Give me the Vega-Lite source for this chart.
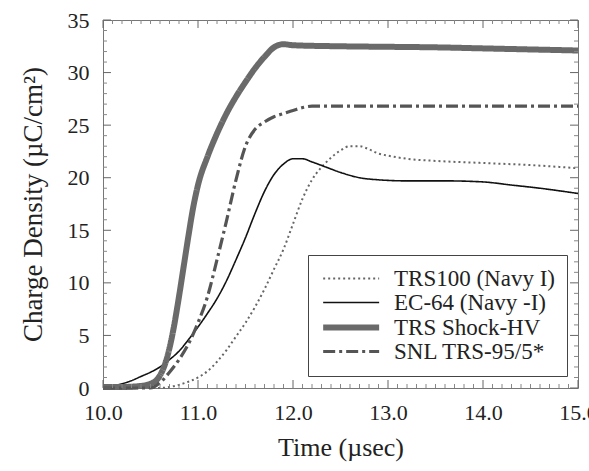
{
  "$schema": "https://vega.github.io/schema/vega-lite/v6.json",
  "width": 475,
  "height": 368,
  "autosize": {"type": "none"},
  "padding": {"left": 103, "top": 20, "right": 11, "bottom": 83},
  "background": "white",
  "config": {
    "view": {"stroke": "#777", "strokeWidth": 1},
    "font": "Liberation Serif",
    "legend": {
      "orient": "none",
      "legendX": 205,
      "legendY": 235,
      "symbolType": "M-1,0H5",
      "symbolSize": 348,
      "labelFont": "Liberation Serif",
      "labelFontSize": 23,
      "labelColor": "#222",
      "labelOffset": 49,
      "labelLimit": 300,
      "strokeColor": "#444",
      "fillColor": "white",
      "padding": 12,
      "rowPadding": 0
    }
  },
  "datasets": {
    "xmaj": [{"p": 10}, {"p": 11}, {"p": 12}, {"p": 13}, {"p": 14}, {"p": 15}],
    "xmin": [
      {"p": 10.1}, {"p": 10.2}, {"p": 10.3}, {"p": 10.4}, {"p": 10.5}, {"p": 10.6}, {"p": 10.7}, {"p": 10.8}, {"p": 10.9},
      {"p": 11.1}, {"p": 11.2}, {"p": 11.3}, {"p": 11.4}, {"p": 11.5}, {"p": 11.6}, {"p": 11.7}, {"p": 11.8}, {"p": 11.9},
      {"p": 12.1}, {"p": 12.2}, {"p": 12.3}, {"p": 12.4}, {"p": 12.5}, {"p": 12.6}, {"p": 12.7}, {"p": 12.8}, {"p": 12.9},
      {"p": 13.1}, {"p": 13.2}, {"p": 13.3}, {"p": 13.4}, {"p": 13.5}, {"p": 13.6}, {"p": 13.7}, {"p": 13.8}, {"p": 13.9},
      {"p": 14.1}, {"p": 14.2}, {"p": 14.3}, {"p": 14.4}, {"p": 14.5}, {"p": 14.6}, {"p": 14.7}, {"p": 14.8}, {"p": 14.9}
    ],
    "ymaj": [{"p": 0}, {"p": 5}, {"p": 10}, {"p": 15}, {"p": 20}, {"p": 25}, {"p": 30}, {"p": 35}],
    "ymin": [
      {"p": 1}, {"p": 2}, {"p": 3}, {"p": 4}, {"p": 6}, {"p": 7}, {"p": 8}, {"p": 9},
      {"p": 11}, {"p": 12}, {"p": 13}, {"p": 14}, {"p": 16}, {"p": 17}, {"p": 18}, {"p": 19},
      {"p": 21}, {"p": 22}, {"p": 23}, {"p": 24}, {"p": 26}, {"p": 27}, {"p": 28}, {"p": 29},
      {"p": 31}, {"p": 32}, {"p": 33}, {"p": 34}
    ],
    "curves": [
      {"t": 10.0, "v": 0.0, "s": "TRS100 (Navy I)"},
      {"t": 10.6, "v": 0.0, "s": "TRS100 (Navy I)"},
      {"t": 10.7, "v": 0.1, "s": "TRS100 (Navy I)"},
      {"t": 10.8, "v": 0.3, "s": "TRS100 (Navy I)"},
      {"t": 10.9, "v": 0.6, "s": "TRS100 (Navy I)"},
      {"t": 11.0, "v": 1.0, "s": "TRS100 (Navy I)"},
      {"t": 11.1, "v": 1.6, "s": "TRS100 (Navy I)"},
      {"t": 11.2, "v": 2.5, "s": "TRS100 (Navy I)"},
      {"t": 11.3, "v": 3.6, "s": "TRS100 (Navy I)"},
      {"t": 11.4, "v": 4.9, "s": "TRS100 (Navy I)"},
      {"t": 11.5, "v": 6.2, "s": "TRS100 (Navy I)"},
      {"t": 11.6, "v": 7.7, "s": "TRS100 (Navy I)"},
      {"t": 11.7, "v": 9.4, "s": "TRS100 (Navy I)"},
      {"t": 11.8, "v": 11.3, "s": "TRS100 (Navy I)"},
      {"t": 11.9, "v": 13.2, "s": "TRS100 (Navy I)"},
      {"t": 12.0, "v": 15.6, "s": "TRS100 (Navy I)"},
      {"t": 12.1, "v": 18.0, "s": "TRS100 (Navy I)"},
      {"t": 12.2, "v": 19.8, "s": "TRS100 (Navy I)"},
      {"t": 12.3, "v": 21.0, "s": "TRS100 (Navy I)"},
      {"t": 12.4, "v": 21.9, "s": "TRS100 (Navy I)"},
      {"t": 12.5, "v": 22.6, "s": "TRS100 (Navy I)"},
      {"t": 12.6, "v": 23.0, "s": "TRS100 (Navy I)"},
      {"t": 12.7, "v": 23.0, "s": "TRS100 (Navy I)"},
      {"t": 12.8, "v": 22.7, "s": "TRS100 (Navy I)"},
      {"t": 12.9, "v": 22.3, "s": "TRS100 (Navy I)"},
      {"t": 13.0, "v": 22.1, "s": "TRS100 (Navy I)"},
      {"t": 13.2, "v": 21.8, "s": "TRS100 (Navy I)"},
      {"t": 13.5, "v": 21.6, "s": "TRS100 (Navy I)"},
      {"t": 14.0, "v": 21.4, "s": "TRS100 (Navy I)"},
      {"t": 14.5, "v": 21.2, "s": "TRS100 (Navy I)"},
      {"t": 15.0, "v": 20.9, "s": "TRS100 (Navy I)"},

      {"t": 10.0, "v": 0.1, "s": "EC-64 (Navy -I)"},
      {"t": 10.2, "v": 0.4, "s": "EC-64 (Navy -I)"},
      {"t": 10.3, "v": 0.7, "s": "EC-64 (Navy -I)"},
      {"t": 10.4, "v": 1.1, "s": "EC-64 (Navy -I)"},
      {"t": 10.5, "v": 1.5, "s": "EC-64 (Navy -I)"},
      {"t": 10.6, "v": 2.0, "s": "EC-64 (Navy -I)"},
      {"t": 10.7, "v": 2.7, "s": "EC-64 (Navy -I)"},
      {"t": 10.8, "v": 3.5, "s": "EC-64 (Navy -I)"},
      {"t": 10.9, "v": 4.6, "s": "EC-64 (Navy -I)"},
      {"t": 11.0, "v": 5.8, "s": "EC-64 (Navy -I)"},
      {"t": 11.1, "v": 7.1, "s": "EC-64 (Navy -I)"},
      {"t": 11.2, "v": 8.5, "s": "EC-64 (Navy -I)"},
      {"t": 11.3, "v": 10.2, "s": "EC-64 (Navy -I)"},
      {"t": 11.4, "v": 12.2, "s": "EC-64 (Navy -I)"},
      {"t": 11.5, "v": 14.3, "s": "EC-64 (Navy -I)"},
      {"t": 11.6, "v": 16.6, "s": "EC-64 (Navy -I)"},
      {"t": 11.7, "v": 18.7, "s": "EC-64 (Navy -I)"},
      {"t": 11.8, "v": 20.3, "s": "EC-64 (Navy -I)"},
      {"t": 11.9, "v": 21.3, "s": "EC-64 (Navy -I)"},
      {"t": 12.0, "v": 21.8, "s": "EC-64 (Navy -I)"},
      {"t": 12.1, "v": 21.8, "s": "EC-64 (Navy -I)"},
      {"t": 12.2, "v": 21.5, "s": "EC-64 (Navy -I)"},
      {"t": 12.35, "v": 21.0, "s": "EC-64 (Navy -I)"},
      {"t": 12.5, "v": 20.5, "s": "EC-64 (Navy -I)"},
      {"t": 12.7, "v": 20.0, "s": "EC-64 (Navy -I)"},
      {"t": 12.9, "v": 19.8, "s": "EC-64 (Navy -I)"},
      {"t": 13.2, "v": 19.7, "s": "EC-64 (Navy -I)"},
      {"t": 13.6, "v": 19.7, "s": "EC-64 (Navy -I)"},
      {"t": 14.0, "v": 19.6, "s": "EC-64 (Navy -I)"},
      {"t": 14.3, "v": 19.3, "s": "EC-64 (Navy -I)"},
      {"t": 14.6, "v": 19.0, "s": "EC-64 (Navy -I)"},
      {"t": 15.0, "v": 18.5, "s": "EC-64 (Navy -I)"},

      {"t": 10.0, "v": 0.1, "s": "TRS Shock-HV"},
      {"t": 10.2, "v": 0.1, "s": "TRS Shock-HV"},
      {"t": 10.4, "v": 0.2, "s": "TRS Shock-HV"},
      {"t": 10.5, "v": 0.4, "s": "TRS Shock-HV"},
      {"t": 10.6, "v": 1.2, "s": "TRS Shock-HV"},
      {"t": 10.65, "v": 2.2, "s": "TRS Shock-HV"},
      {"t": 10.7, "v": 3.8, "s": "TRS Shock-HV"},
      {"t": 10.75, "v": 6.0, "s": "TRS Shock-HV"},
      {"t": 10.8, "v": 8.7, "s": "TRS Shock-HV"},
      {"t": 10.85, "v": 11.6, "s": "TRS Shock-HV"},
      {"t": 10.9, "v": 14.5, "s": "TRS Shock-HV"},
      {"t": 10.95, "v": 17.2, "s": "TRS Shock-HV"},
      {"t": 11.0, "v": 19.3, "s": "TRS Shock-HV"},
      {"t": 11.1, "v": 22.0, "s": "TRS Shock-HV"},
      {"t": 11.2, "v": 24.2, "s": "TRS Shock-HV"},
      {"t": 11.3, "v": 26.1, "s": "TRS Shock-HV"},
      {"t": 11.4, "v": 27.7, "s": "TRS Shock-HV"},
      {"t": 11.5, "v": 29.1, "s": "TRS Shock-HV"},
      {"t": 11.6, "v": 30.4, "s": "TRS Shock-HV"},
      {"t": 11.7, "v": 31.5, "s": "TRS Shock-HV"},
      {"t": 11.8, "v": 32.4, "s": "TRS Shock-HV"},
      {"t": 11.9, "v": 32.7, "s": "TRS Shock-HV"},
      {"t": 12.0, "v": 32.6, "s": "TRS Shock-HV"},
      {"t": 12.5, "v": 32.5, "s": "TRS Shock-HV"},
      {"t": 13.0, "v": 32.45, "s": "TRS Shock-HV"},
      {"t": 13.5, "v": 32.4, "s": "TRS Shock-HV"},
      {"t": 14.0, "v": 32.3, "s": "TRS Shock-HV"},
      {"t": 14.5, "v": 32.2, "s": "TRS Shock-HV"},
      {"t": 15.0, "v": 32.1, "s": "TRS Shock-HV"},

      {"t": 10.0, "v": 0.0, "s": "SNL TRS-95/5*"},
      {"t": 10.5, "v": 0.0, "s": "SNL TRS-95/5*"},
      {"t": 10.6, "v": 0.5, "s": "SNL TRS-95/5*"},
      {"t": 10.7, "v": 1.5, "s": "SNL TRS-95/5*"},
      {"t": 10.8, "v": 2.7, "s": "SNL TRS-95/5*"},
      {"t": 10.9, "v": 4.2, "s": "SNL TRS-95/5*"},
      {"t": 11.0, "v": 6.2, "s": "SNL TRS-95/5*"},
      {"t": 11.1, "v": 8.7, "s": "SNL TRS-95/5*"},
      {"t": 11.2, "v": 12.2, "s": "SNL TRS-95/5*"},
      {"t": 11.3, "v": 15.9, "s": "SNL TRS-95/5*"},
      {"t": 11.4, "v": 19.8, "s": "SNL TRS-95/5*"},
      {"t": 11.5, "v": 23.0, "s": "SNL TRS-95/5*"},
      {"t": 11.6, "v": 24.6, "s": "SNL TRS-95/5*"},
      {"t": 11.7, "v": 25.3, "s": "SNL TRS-95/5*"},
      {"t": 11.8, "v": 25.8, "s": "SNL TRS-95/5*"},
      {"t": 11.9, "v": 26.1, "s": "SNL TRS-95/5*"},
      {"t": 12.0, "v": 26.4, "s": "SNL TRS-95/5*"},
      {"t": 12.2, "v": 26.8, "s": "SNL TRS-95/5*"},
      {"t": 13.0, "v": 26.8, "s": "SNL TRS-95/5*"},
      {"t": 14.0, "v": 26.8, "s": "SNL TRS-95/5*"},
      {"t": 15.0, "v": 26.8, "s": "SNL TRS-95/5*"}
    ]
  },
  "layer": [
    {
      "data": {"name": "curves"},
      "mark": {"type": "line", "interpolate": "monotone"},
      "encoding": {
        "x": {
          "field": "t", "type": "quantitative",
          "scale": {"domain": [10, 15], "nice": false, "zero": false},
          "axis": {
            "orient": "bottom", "values": [10, 11, 12, 13, 14, 15],
            "ticks": false, "tickSize": 0, "domain": false, "grid": false,
            "labelFont": "Liberation Serif", "labelFontSize": 22, "labelColor": "#222",
            "labelPadding": 14, "labelFlush": false,
            "title": "Time (µsec)", "titleFont": "Liberation Serif", "titleFontSize": 26,
            "titleFontWeight": "normal", "titleColor": "#222", "titlePadding": 11
          }
        },
        "y": {
          "field": "v", "type": "quantitative",
          "scale": {"domain": [0, 35], "nice": false},
          "axis": {
            "orient": "left", "values": [0, 5, 10, 15, 20, 25, 30, 35],
            "ticks": false, "tickSize": 0, "domain": false, "grid": false,
            "labelFont": "Liberation Serif", "labelFontSize": 22, "labelColor": "#222",
            "labelPadding": 14, "labelFlush": false,
            "title": "Charge Density (µC/cm²)", "titleFont": "Liberation Serif", "titleFontSize": 27,
            "titleFontWeight": "normal", "titleColor": "#222", "titlePadding": 20
          }
        },
        "color": {
          "field": "s", "type": "nominal",
          "scale": {"domain": ["TRS100 (Navy I)", "EC-64 (Navy -I)", "TRS Shock-HV", "SNL TRS-95/5*"],
                    "range": ["#666666", "#111111", "#6a6a6a", "#555555"]},
          "legend": {"title": null}
        },
        "strokeDash": {
          "field": "s", "type": "nominal",
          "scale": {"domain": ["TRS100 (Navy I)", "EC-64 (Navy -I)", "TRS Shock-HV", "SNL TRS-95/5*"],
                    "range": [[2, 3], [1, 0], [1, 0], [12, 4, 3, 4]]},
          "legend": {"title": null}
        },
        "strokeWidth": {
          "field": "s", "type": "nominal",
          "scale": {"type": "ordinal", "domain": ["TRS100 (Navy I)", "EC-64 (Navy -I)", "TRS Shock-HV", "SNL TRS-95/5*"],
                    "range": [2, 1.6, 6, 3.2]},
          "legend": {"title": null}
        }
      }
    },
    {
      "data": {"name": "xmaj"},
      "mark": {"type": "rule", "color": "#666", "strokeWidth": 1},
      "encoding": {
        "x": {"field": "p", "type": "quantitative"},
        "y": {"datum": 0, "type": "quantitative"},
        "y2": {"datum": 0.76}
      }
    },
    {
      "data": {"name": "xmaj"},
      "mark": {"type": "rule", "color": "#666", "strokeWidth": 1},
      "encoding": {
        "x": {"field": "p", "type": "quantitative"},
        "y": {"datum": 35, "type": "quantitative"},
        "y2": {"datum": 34.24}
      }
    },
    {
      "data": {"name": "xmin"},
      "mark": {"type": "rule", "color": "#888", "strokeWidth": 1},
      "encoding": {
        "x": {"field": "p", "type": "quantitative"},
        "y": {"datum": 0, "type": "quantitative"},
        "y2": {"datum": 0.38}
      }
    },
    {
      "data": {"name": "xmin"},
      "mark": {"type": "rule", "color": "#888", "strokeWidth": 1},
      "encoding": {
        "x": {"field": "p", "type": "quantitative"},
        "y": {"datum": 35, "type": "quantitative"},
        "y2": {"datum": 34.62}
      }
    },
    {
      "data": {"name": "ymaj"},
      "mark": {"type": "rule", "color": "#666", "strokeWidth": 1},
      "encoding": {
        "y": {"field": "p", "type": "quantitative"},
        "x": {"datum": 10, "type": "quantitative"},
        "x2": {"datum": 10.084}
      }
    },
    {
      "data": {"name": "ymaj"},
      "mark": {"type": "rule", "color": "#666", "strokeWidth": 1},
      "encoding": {
        "y": {"field": "p", "type": "quantitative"},
        "x": {"datum": 15, "type": "quantitative"},
        "x2": {"datum": 14.916}
      }
    },
    {
      "data": {"name": "ymin"},
      "mark": {"type": "rule", "color": "#888", "strokeWidth": 1},
      "encoding": {
        "y": {"field": "p", "type": "quantitative"},
        "x": {"datum": 10, "type": "quantitative"},
        "x2": {"datum": 10.042}
      }
    },
    {
      "data": {"name": "ymin"},
      "mark": {"type": "rule", "color": "#888", "strokeWidth": 1},
      "encoding": {
        "y": {"field": "p", "type": "quantitative"},
        "x": {"datum": 15, "type": "quantitative"},
        "x2": {"datum": 14.958}
      }
    }
  ]
}
